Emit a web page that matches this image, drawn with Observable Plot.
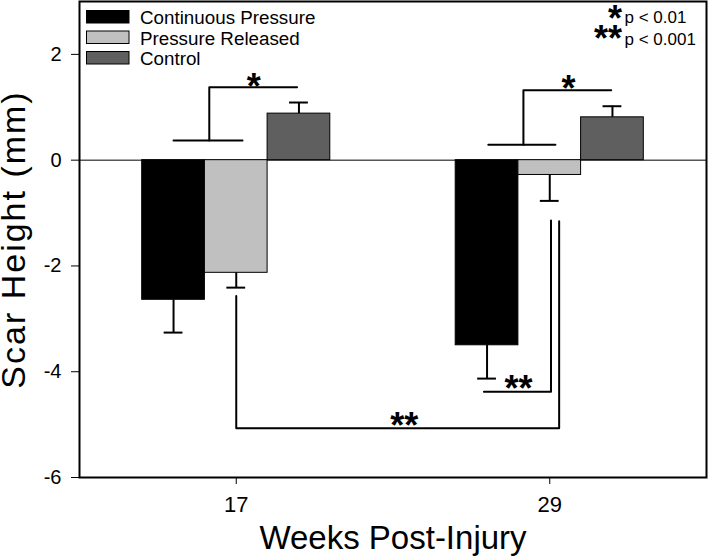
<!DOCTYPE html>
<html>
<head>
<meta charset="utf-8">
<script src="https://cdn.jsdelivr.net/npm/d3@7"></script>
<script src="https://cdn.jsdelivr.net/npm/@observablehq/plot@0.6"></script>
<style>
  body { margin: 0; background: #fff; }
  #wrap { position: relative; width: 708px; height: 558px; font-family: "Liberation Sans", Arial, sans-serif; }
  #overlay { position: absolute; left: 0; top: 0; pointer-events: none; }
</style>
</head>
<body>
<div id="wrap"></div>
<script>
// ---- data ----
const weeks = ["17", "29"];
const series = ["Continuous Pressure", "Pressure Released", "Control"];
const seriesColors = ["#000000", "#c0c0c0", "#5f5f5f"];
const meanContinuous = [-2.64, -3.50];
const meanReleased = [-2.13, -0.28];
const meanControl = [0.88, 0.81];
const seContinuous = [0.62, 0.63];
const seReleased = [0.28, 0.49];
const seControl = [0.21, 0.21];
const yTicks = [-6, -4, -2, 0, 2];
const pStars = ["*", "**"];
const pTexts = ["p < 0.01", "p < 0.001"];
const yLabel = "Scar Height (mm)";
const xLabel = "Weeks Post-Injury";

// significance brackets (x in bar-slot units, y in mm)
const brackets = [
  [[1.5, 0.37], [2.6, 0.37]],
  [[2.07, 0.37], [2.07, 1.38], [3.47, 1.38]],
  [[6.52, 0.29], [7.59, 0.29]],
  [[7.08, 0.29], [7.08, 1.32], [8.48, 1.32]],
  [[6.45, -4.38], [7.52, -4.38], [7.52, -1.14]],
  [[2.5, -2.57], [2.5, -5.07], [7.65, -5.07], [7.65, -1.155]]
];
const starLabels = [
  {x: 2.78, y: 1.55, text: "*"},
  {x: 7.80, y: 1.51, text: "*"},
  {x: 7.00, y: -4.17, text: "**"},
  {x: 5.18, y: -4.87, text: "**"}
];

// ---- table built from arrays ----
const means = [meanContinuous, meanReleased, meanControl];
const ses = [seContinuous, seReleased, seControl];
const groupSlots = 5;            // slots per week group (3 bars + gap)
const bars = [];
weeks.forEach((w, gi) => {
  series.forEach((s, si) => {
    const v = means[si][gi];
    const e = ses[si][gi];
    const xc = gi * groupSlots + si + 1.5;
    bars.push({week: w, series: s, value: v, se: e, xc, x1: xc - 0.5, x2: xc + 0.5,
               errEnd: v + Math.sign(v) * e});
  });
});
const bracketPts = brackets.flatMap((b, i) => b.map(([x, y]) => ({id: i, x, y})));
const weekTicks = weeks.map((w, gi) => gi * groupSlots + 2.5);
const capHalf = 0.15;

const font = "'Liberation Sans', Arial, sans-serif";

const chart = Plot.plot({
  width: 708,
  height: 558,
  marginLeft: 79,
  marginRight: 2,
  marginTop: 1,
  marginBottom: 81,
  x: {domain: [0, 10]},
  y: {domain: [-6, 3]},
  color: {domain: series, range: seriesColors},
  style: {fontFamily: font, color: "black", background: "white", overflow: "visible"},
  marks: [
    Plot.ruleY([0], {stroke: "black", strokeWidth: 1}),
    Plot.rect(bars, {x1: "x1", x2: "x2", y1: 0, y2: "value", fill: "series", stroke: "black", strokeWidth: 1}),
    Plot.ruleX(bars, {x: "xc", y1: "value", y2: "errEnd", stroke: "black", strokeWidth: 2}),
    Plot.ruleY(bars, {y: "errEnd", x1: d => d.xc - capHalf, x2: d => d.xc + capHalf, stroke: "black", strokeWidth: 2}),
    Plot.line(bracketPts, {x: "x", y: "y", z: "id", stroke: "black", strokeWidth: 2}),
    Plot.text(starLabels, {x: "x", y: "y", text: "text", fontSize: 36, fontWeight: "bold", dy: 9}),
    Plot.axisY({ticks: yTicks, tickSize: 8, tickPadding: 10, fontSize: 20, label: null, tickFormat: d => `${d}`}),
    Plot.axisX({ticks: weekTicks, tickSize: 7, tickPadding: 12, fontSize: 22, label: null,
                tickFormat: d => weeks[weekTicks.indexOf(d)]}),
    Plot.text([yLabel], {text: d => d, frameAnchor: "left", textAnchor: "middle", lineAnchor: "middle",
                         dx: -64.9, rotate: -90, fontSize: 34}),
    Plot.text([xLabel], {text: d => d, frameAnchor: "bottom", textAnchor: "middle", lineAnchor: "middle",
                         dy: 61, fontSize: 33}),
    Plot.frame({stroke: "black", strokeWidth: 2})
  ]
});

// widen the y-axis title's letter spacing to match the reference
d3.select(chart).selectAll("text").filter(function() { return this.textContent === yLabel; })
  .attr("letter-spacing", "2px");

const wrap = document.getElementById("wrap");
wrap.appendChild(chart);

// ---- legends (overlay) ----
const ov = d3.select(wrap).append("svg").attr("id", "overlay")
  .attr("width", 708).attr("height", 558)
  .style("font-family", font);

const legBase = [24, 44.5, 65];
series.forEach((s, i) => {
  ov.append("rect").attr("x", 86.5).attr("y", legBase[i] - 13.5).attr("width", 42.5).attr("height", 12.5)
    .attr("fill", seriesColors[i]).attr("stroke", "black").attr("stroke-width", 1);
  ov.append("text").attr("x", 140).attr("y", legBase[i]).attr("font-size", 18.8).text(s);
});

const pBase = [23.3, 45];
const starBase = [31, 51];
pTexts.forEach((t, i) => {
  ov.append("text").attr("x", 622).attr("y", starBase[i]).attr("text-anchor", "end")
    .attr("font-size", 36).attr("font-weight", "bold").text(pStars[i]);
  ov.append("text").attr("x", 624.5).attr("y", pBase[i]).attr("font-size", 17).text(t);
});
</script>
</body>
</html>
